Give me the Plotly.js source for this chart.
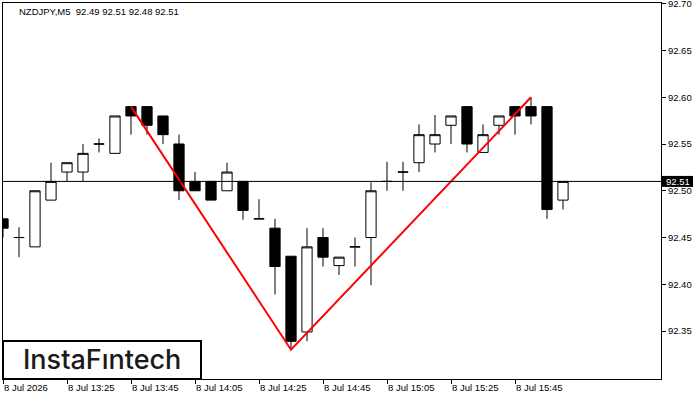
<!DOCTYPE html>
<html><head><meta charset="utf-8">
<script src="https://cdn.plot.ly/plotly-3.0.1.min.js"></script>
<style>html,body{margin:0;padding:0;background:#fff}#chart{width:700px;height:400px}</style>
</head><body><div id="chart"></div>
<script>
const symbol = "NZDJPY,M5";
const times = ["13:05","13:10","13:15","13:20","13:25","13:30","13:35","13:40","13:45","13:50","13:55","14:00",
  "14:05","14:10","14:15","14:20","14:25","14:30","14:35","14:40","14:45","14:50","14:55","15:00",
  "15:05","15:10","15:15","15:20","15:25","15:30","15:35","15:40","15:45","15:50","15:55","16:00"];
const opens = [92.470,92.450,92.440,92.490,92.520,92.520,92.550,92.540,92.590,92.590,92.580,92.550,
  92.510,92.510,92.500,92.510,92.470,92.460,92.430,92.349,92.450,92.420,92.440,92.450,
  92.510,92.520,92.530,92.550,92.570,92.590,92.541,92.570,92.590,92.590,92.590,92.490];
const highs = [92.470,92.461,92.500,92.530,92.530,92.550,92.556,92.580,92.590,92.590,92.580,92.560,
  92.520,92.510,92.530,92.510,92.491,92.470,92.430,92.460,92.460,92.429,92.450,92.509,
  92.531,92.531,92.571,92.581,92.580,92.590,92.571,92.580,92.590,92.600,92.590,92.510];
const lows = [92.450,92.429,92.440,92.490,92.510,92.510,92.541,92.540,92.560,92.560,92.550,92.490,
  92.500,92.490,92.500,92.469,92.470,92.389,92.330,92.339,92.419,92.410,92.419,92.399,
  92.500,92.500,92.520,92.541,92.550,92.541,92.541,92.560,92.560,92.571,92.470,92.480];
const closes = [92.460,92.450,92.500,92.510,92.530,92.540,92.550,92.580,92.580,92.570,92.560,92.500,
  92.500,92.490,92.520,92.479,92.470,92.419,92.339,92.440,92.429,92.429,92.440,92.500,
  92.510,92.520,92.560,92.560,92.580,92.550,92.560,92.580,92.580,92.580,92.480,92.510];
const tickTimes = ["13:05","13:25","13:45","14:05","14:25","14:45","15:05","15:25","15:45"];
const tickLabels = ["8 Jul 2026","8 Jul 13:25","8 Jul 13:45","8 Jul 14:05","8 Jul 14:25","8 Jul 14:45","8 Jul 15:05","8 Jul 15:25","8 Jul 15:45"];
const patternTimes = ["13:45","14:35","15:50"];
const patternPrices = [92.590, 92.330, 92.600];
const yTicks = [92.35,92.40,92.45,92.50,92.55,92.60,92.65,92.70];

const W = 700, H = 400, ML = 3, MR = 39, MT = 3, MB = 21;
const PW = W - ML - MR, PH = H - MT - MB;
const yRange = [92.2987, 92.7008];
const xRange = [0, 41.125];
const FONT = "Liberation Sans, Arial, sans-serif";
const n = closes.length;
const last = closes[n-1];
const frac = (last - yRange[0]) / (yRange[1] - yRange[0]);

const header = symbol + "\u00a0\u00a0" + [opens[n-1], highs[n-1], lows[n-1], closes[n-1]].map(v => v.toFixed(2)).join(" ");

const data = [
  {
    type: 'candlestick', x: times, open: opens, high: highs, low: lows, close: closes,
    increasing: {line: {color: '#000', width: 1}, fillcolor: '#fff'},
    decreasing: {line: {color: '#000', width: 1}, fillcolor: '#000'},
    whiskerwidth: 0, hoverinfo: 'skip', showlegend: false
  },
  {
    type: 'scatter', mode: 'lines', x: patternTimes, y: patternPrices,
    line: {color: '#ff0000', width: 2}, hoverinfo: 'skip', showlegend: false
  }
];

const layout = {
  width: W, height: H,
  margin: {l: ML, r: MR, t: MT, b: MB, pad: 0},
  paper_bgcolor: '#fff', plot_bgcolor: '#fff',
  boxgap: 0.36, boxgroupgap: 0,
  showlegend: false,
  font: {family: FONT, size: 9.5, color: '#000'},
  xaxis: {
    type: 'category', range: xRange, rangeslider: {visible: false},
    showline: true, mirror: true, linecolor: '#000', linewidth: 1,
    showgrid: false, zeroline: false,
    ticks: 'outside', ticklen: 4, tickcolor: '#000', tickwidth: 1,
    tickmode: 'array', tickvals: tickTimes, ticktext: tickLabels,
    ticklabelposition: 'outside right', ticklabeloverflow: 'allow',
    tickfont: {family: FONT, size: 9.5, color: '#000'}, fixedrange: true
  },
  yaxis: {
    side: 'right', range: yRange,
    showline: true, mirror: true, linecolor: '#000', linewidth: 1,
    showgrid: false, zeroline: false,
    ticks: 'outside', ticklen: 4, tickcolor: '#000', tickwidth: 1,
    tickmode: 'array', tickvals: yTicks, ticktext: yTicks.map(v => v.toFixed(2)),
    ticklabeloverflow: 'allow',
    tickfont: {family: FONT, size: 9.5, color: '#000'}, fixedrange: true
  },
  shapes: [
    {type: 'line', xref: 'paper', x0: 0, x1: 1, yref: 'y', y0: last, y1: last,
     line: {color: '#000', width: 1}, layer: 'above'},
    {type: 'rect', xref: 'paper', yref: 'paper', x0: 1 + 1/PW, x1: 1 + 32/PW,
     y0: frac - 5.5/PH, y1: frac + 5.5/PH, fillcolor: '#000', line: {width: 0}, layer: 'above'},
    {type: 'rect', xref: 'paper', yref: 'paper', x0: 0, x1: 198/PW, y0: 0, y1: 38/PH,
     fillcolor: '#fff', line: {color: '#000', width: 2}, layer: 'above'}
  ],
  annotations: [
    {xref: 'paper', yref: 'paper', x: 0, y: 1, xanchor: 'left', yanchor: 'middle',
     xshift: 14, yshift: -8.5, showarrow: false, text: header,
     font: {family: FONT, size: 9.5, color: '#000'}},
    {xref: 'paper', yref: 'paper', x: 1 + 16.5/PW, y: frac, xanchor: 'center', yanchor: 'middle',
     showarrow: false, text: last.toFixed(2), font: {family: FONT, size: 9.5, color: '#fff'}},
    {xref: 'paper', yref: 'paper', x: 99/PW, y: 20/PH, xanchor: 'center', yanchor: 'middle',
     showarrow: false, text: 'InstaFıntech',
     font: {family: 'Inter, Noto Sans, sans-serif', size: 27, color: '#1a1a1a', weight: 500}}
  ]
};

Plotly.newPlot('chart', data, layout, {staticPlot: true, displayModeBar: false});
</script>
</body></html>
